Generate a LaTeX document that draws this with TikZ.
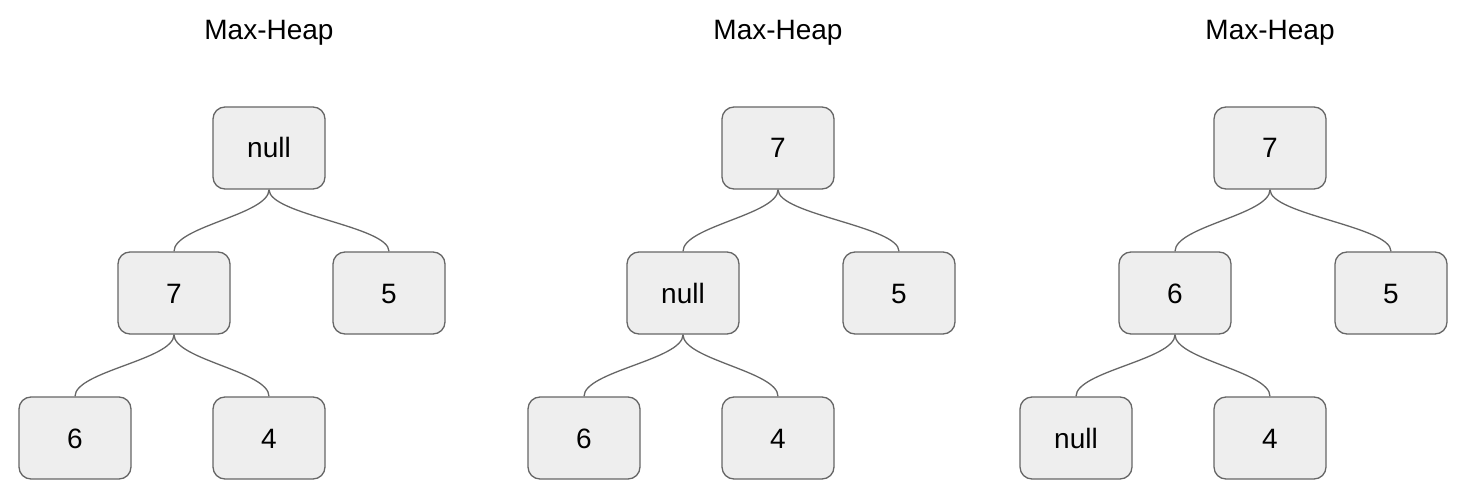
\documentclass[tikz,border=0pt]{standalone}
\usepackage{fontspec}
\setmainfont{Liberation Sans}
\usepackage{tikz}
\usetikzlibrary{positioning}
\definecolor{boxfill}{HTML}{EEEEEE}
\definecolor{boxline}{HTML}{666666}
\tikzset{
    x=1pt, y=1pt,
    on grid, % Distances are measured between node centres
    heapnode/.style={ % Sets the properties for each heap entry
        draw=boxline,
        fill=boxfill,
        line width=1.3pt,
        rounded corners=12pt,
        minimum width=112pt,
        minimum height=82pt,
        inner sep=0pt,
        text height=20pt,
        text depth=0pt,
        font=\fontsize{28pt}{34pt}\selectfont
    },
    heading/.style={ % Title above each tree
        text height=20pt,
        text depth=0pt,
        font=\fontsize{28pt}{34pt}\selectfont
    },
    link/.style={ % Curved parent-child connector
        draw=boxline,
        line width=1.3pt,
        out=-90, in=90,
        distance=25pt
    }
}

\begin{document}
\begin{tikzpicture}
            \useasboundingbox (0,0) rectangle (1472,496);

            % first heap
            \node[heapnode] (r1) at (269,348) {null};
            \node[heapnode, below left=145pt and 95pt of r1] (a1) {7};
            \node[heapnode, below right=145pt and 120pt of r1] (b1) {5};
            \node[heapnode, below left=145pt and 99pt of a1] (c1) {6};
            \node[heapnode, below right=145pt and 95pt of a1] (d1) {4};
            \node[heading, above=118pt of r1] (h1) {Max-Heap};

            \draw (r1.south) edge[link] (a1.north);
            \draw (r1.south) edge[link] (b1.north);
            \draw (a1.south) edge[link] (c1.north);
            \draw (a1.south) edge[link] (d1.north);

            % second heap
            \node[heapnode] (r2) at (778,348) {7};
            \node[heapnode, below left=145pt and 95pt of r2] (a2) {null};
            \node[heapnode, below right=145pt and 121pt of r2] (b2) {5};
            \node[heapnode, below left=145pt and 99pt of a2] (c2) {6};
            \node[heapnode, below right=145pt and 95pt of a2] (d2) {4};
            \node[heading, above=118pt of r2] (h2) {Max-Heap};

            \draw (r2.south) edge[link] (a2.north);
            \draw (r2.south) edge[link] (b2.north);
            \draw (a2.south) edge[link] (c2.north);
            \draw (a2.south) edge[link] (d2.north);

            % third heap
            \node[heapnode] (r3) at (1270,348) {7};
            \node[heapnode, below left=145pt and 95pt of r3] (a3) {6};
            \node[heapnode, below right=145pt and 121pt of r3] (b3) {5};
            \node[heapnode, below left=145pt and 99pt of a3] (c3) {null};
            \node[heapnode, below right=145pt and 95pt of a3] (d3) {4};
            \node[heading, above=118pt of r3] (h3) {Max-Heap};

            \draw (r3.south) edge[link] (a3.north);
            \draw (r3.south) edge[link] (b3.north);
            \draw (a3.south) edge[link] (c3.north);
            \draw (a3.south) edge[link] (d3.north);

        \end{tikzpicture}
\end{document}
